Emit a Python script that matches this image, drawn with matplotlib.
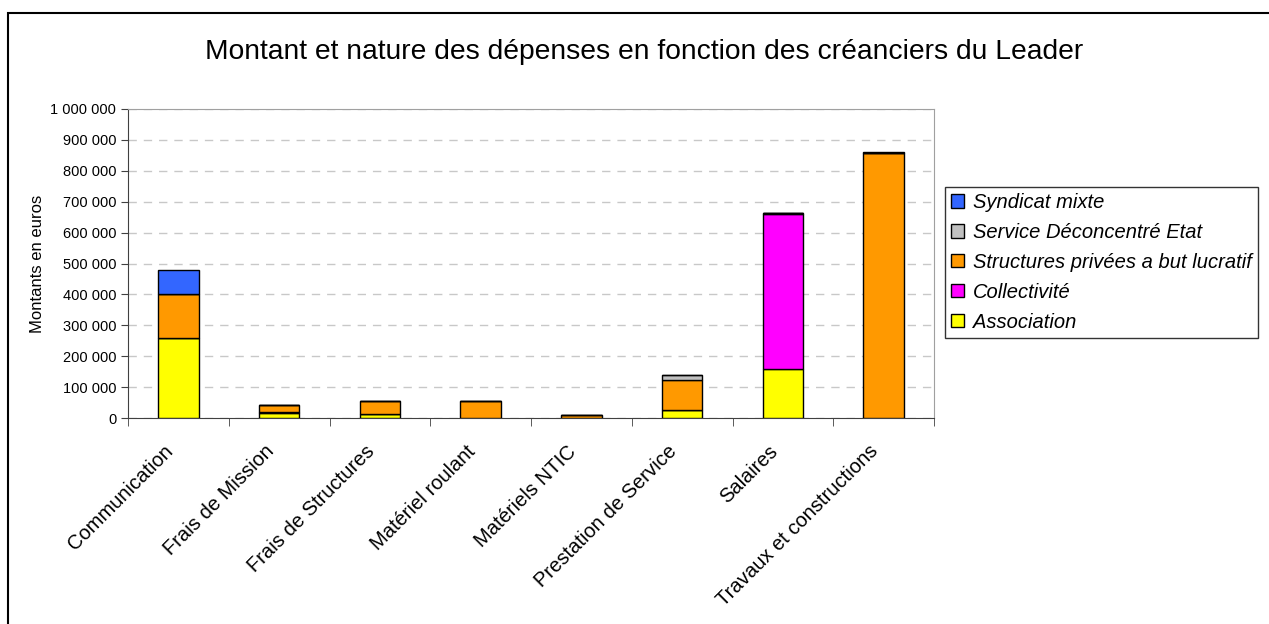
import numpy as np
import matplotlib.pyplot as plt
import matplotlib.transforms as mtransforms
from matplotlib.ticker import FuncFormatter
from matplotlib.patches import Rectangle

plt.rcParams['font.family'] = ['Liberation Sans', 'DejaVu Sans']

categories = ["Communication", "Frais de Mission", "Frais de Structures",
              "Matériel roulant", "Matériels NTIC", "Prestation de Service",
              "Salaires", "Travaux et constructions"]

# stacked from bottom to top
association = [260000, 16000, 12000, 0, 0, 25000, 157000, 0]
collectivite = [0, 3000, 0, 0, 0, 0, 503000, 0]
structures_privees = [140000, 24000, 43000, 55000, 10000, 97000, 3000, 857000]
service_etat = [0, 0, 0, 0, 0, 18000, 0, 0]
syndicat = [78000, 0, 0, 0, 0, 0, 0, 3000]

series = [
    ("Association", association, "#FFFF00"),
    ("Collectivité", collectivite, "#FF00FF"),
    ("Structures privées a but lucratif", structures_privees, "#FF9900"),
    ("Service Déconcentré Etat", service_etat, "#C0C0C0"),
    ("Syndicat mixte", syndicat, "#3366FF"),
]

fig = plt.figure(figsize=(12.69, 6.24), dpi=100)
ax = fig.add_axes([128 / 1269, 1 - 418 / 624, (934 - 128) / 1269, (418 - 109) / 624])

x = np.arange(len(categories))
bottom = np.zeros(len(categories))
handles = {}
for name, vals, color in series:
    vals = np.array(vals, dtype=float)
    bars = ax.bar(x, vals, bottom=bottom, width=0.4, color=color,
                  edgecolor="black", linewidth=1.0, label=name, zorder=3)
    handles[name] = bars
    bottom += vals

ax.set_xlim(-0.5, len(categories) - 0.5)
ax.set_ylim(0, 1000000)
ax.set_yticks(np.arange(0, 1000001, 100000))
ax.yaxis.set_major_formatter(FuncFormatter(lambda v, p: f"{int(v):,}".replace(",", " ")))
ax.tick_params(axis="y", labelsize=10.5, length=5, color="#404040")
ax.grid(axis="y", color="#c8c8c8", linestyle=(0, (6, 5)), linewidth=1.0, zorder=0)

ax.set_xticks(x)
ax.set_xticklabels(categories, rotation=45, ha="right", va="center",
                   rotation_mode="anchor", fontsize=14.5)
ax.tick_params(axis="x", length=0, pad=22)
shift = mtransforms.ScaledTranslation(-8 / 100, 0, fig.dpi_scale_trans)
for lbl in ax.get_xticklabels():
    lbl.set_transform(lbl.get_transform() + shift)
ax.set_xticks(np.arange(-0.5, len(categories) + 0.5, 1), minor=True)
ax.tick_params(axis="x", which="minor", length=6, color="#404040")

for side in ["top", "right"]:
    ax.spines[side].set_color("#a0a0a0")
ax.spines["left"].set_color("#404040")
ax.spines["bottom"].set_color("#404040")

ax.set_ylabel("Montants en euros", fontsize=12, labelpad=4)

fig.text(0.5 * (205 + 1083) / 1269, 1 - 52 / 624,
         "Montant et nature des dépenses en fonction des créanciers du Leader",
         ha="center", va="center", fontsize=20.3)

order = ["Syndicat mixte", "Service Déconcentré Etat",
         "Structures privées a but lucratif", "Collectivité", "Association"]
leg = fig.legend([handles[n] for n in order], order,
                 loc="upper left", bbox_to_anchor=(945 / 1269, 1 - 187 / 624),
                 frameon=True, fancybox=False, edgecolor="black",
                 prop={"style": "italic", "size": 14.5},
                 handlelength=0.65, handleheight=0.65, handletextpad=0.45,
                 labelspacing=0.54, borderaxespad=0, borderpad=0.3)
leg.get_frame().set_linewidth(1.0)

# outer chart frame
fig.patches.append(Rectangle((8 / 1269, -0.1), 1.2, 1 - 13 / 624 + 0.1,
                             transform=fig.transFigure, fill=False,
                             edgecolor="black", linewidth=1.5))

fig.savefig("out.png", dpi=100)
